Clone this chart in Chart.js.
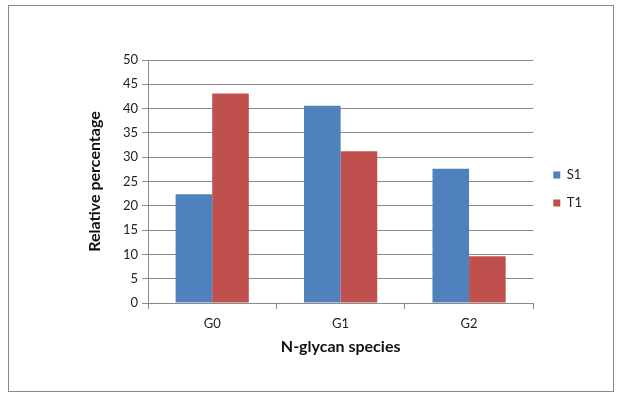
<!DOCTYPE html>
<html>
<head>
<meta charset="utf-8">
<script src="https://cdn.jsdelivr.net/npm/chart.js@4"></script>
<style>
html,body{margin:0;padding:0;background:#fff;}
#wrap{position:absolute;left:0;top:0;width:622px;height:402px;}
</style>
</head>
<body>
<div id="wrap"><canvas id="c" width="622" height="402"></canvas></div>
<script>
const categories = ["G0", "G1", "G2"];
const seriesNames = ["S1", "T1"];
const s1Values = [22.4, 40.6, 27.6];
const t1Values = [43.1, 31.2, 9.6];
const yTicks = [0, 5, 10, 15, 20, 25, 30, 35, 40, 45, 50];

const borderPlugin = {
  id: 'outerBorder',
  beforeDraw(chart) {
    const ctx = chart.ctx;
    ctx.save();
    ctx.fillStyle = '#fff';
    ctx.fillRect(0, 0, chart.width, chart.height);
    ctx.strokeStyle = '#8a8a8a';
    ctx.lineWidth = 1;
    ctx.strokeRect(8.5, 5.5, 605, 386);
    ctx.restore();
  },
  afterLayout(chart) {
    const lg = chart.legend;
    if (!lg) return;
    const shift = (189 - (lg.top + lg.bottom) / 2);
    lg.top += shift; lg.bottom += shift;
    lg.left += 5; lg.right += 5;
  }
};

const FONT = "'Lato', 'Liberation Sans', sans-serif";

new Chart(document.getElementById('c'), {
  type: 'bar',
  data: {
    labels: categories,
    datasets: [
      { label: seriesNames[0], data: s1Values, backgroundColor: '#4F81BD', borderWidth: 0 },
      { label: seriesNames[1], data: t1Values, backgroundColor: '#C0504D', borderWidth: 0 }
    ]
  },
  options: {
    responsive: false,
    animation: false,
    devicePixelRatio: 1,
    layout: { padding: { left: 81, right: 35, top: 60, bottom: 46 } },
    datasets: { bar: { categoryPercentage: 0.57, barPercentage: 1.0 } },
    plugins: {
      legend: {
        position: 'right',
        align: 'center',
        labels: {
          boxWidth: 7, boxHeight: 7, padding: 15,
          color: '#222',
          font: { family: FONT, size: 13 }
        }
      },
      tooltip: { enabled: false }
    },
    scales: {
      x: {
        grid: { drawOnChartArea: false, drawTicks: true, tickLength: 6, color: '#8a8a8a', offset: true },
        border: { color: '#8a8a8a' },
        ticks: { color: '#222', font: { family: FONT, size: 13 }, padding: 7 },
        title: { display: true, text: 'N-glycan species', color: '#111', font: { family: FONT, size: 16, weight: 'bold' }, padding: { top: 2, bottom: 0 } },
        afterFit(s) { s.height = 53; }
      },
      y: {
        min: 0, max: 50,
        afterBuildTicks(s) { s.ticks = yTicks.map(v => ({ value: v })); },
        grid: { color: '#8a8a8a', tickLength: 6 },
        border: { color: '#8a8a8a' },
        ticks: { color: '#222', font: { family: FONT, size: 13 }, padding: 4 },
        title: { display: true, text: 'Relative percentage', color: '#111', font: { family: FONT, size: 16, weight: 'bold' }, padding: { top: 4, bottom: 0 } },
        afterFit(s) { s.width = 67; }
      }
    }
  },
  plugins: [borderPlugin]
});
</script>
</body>
</html>
